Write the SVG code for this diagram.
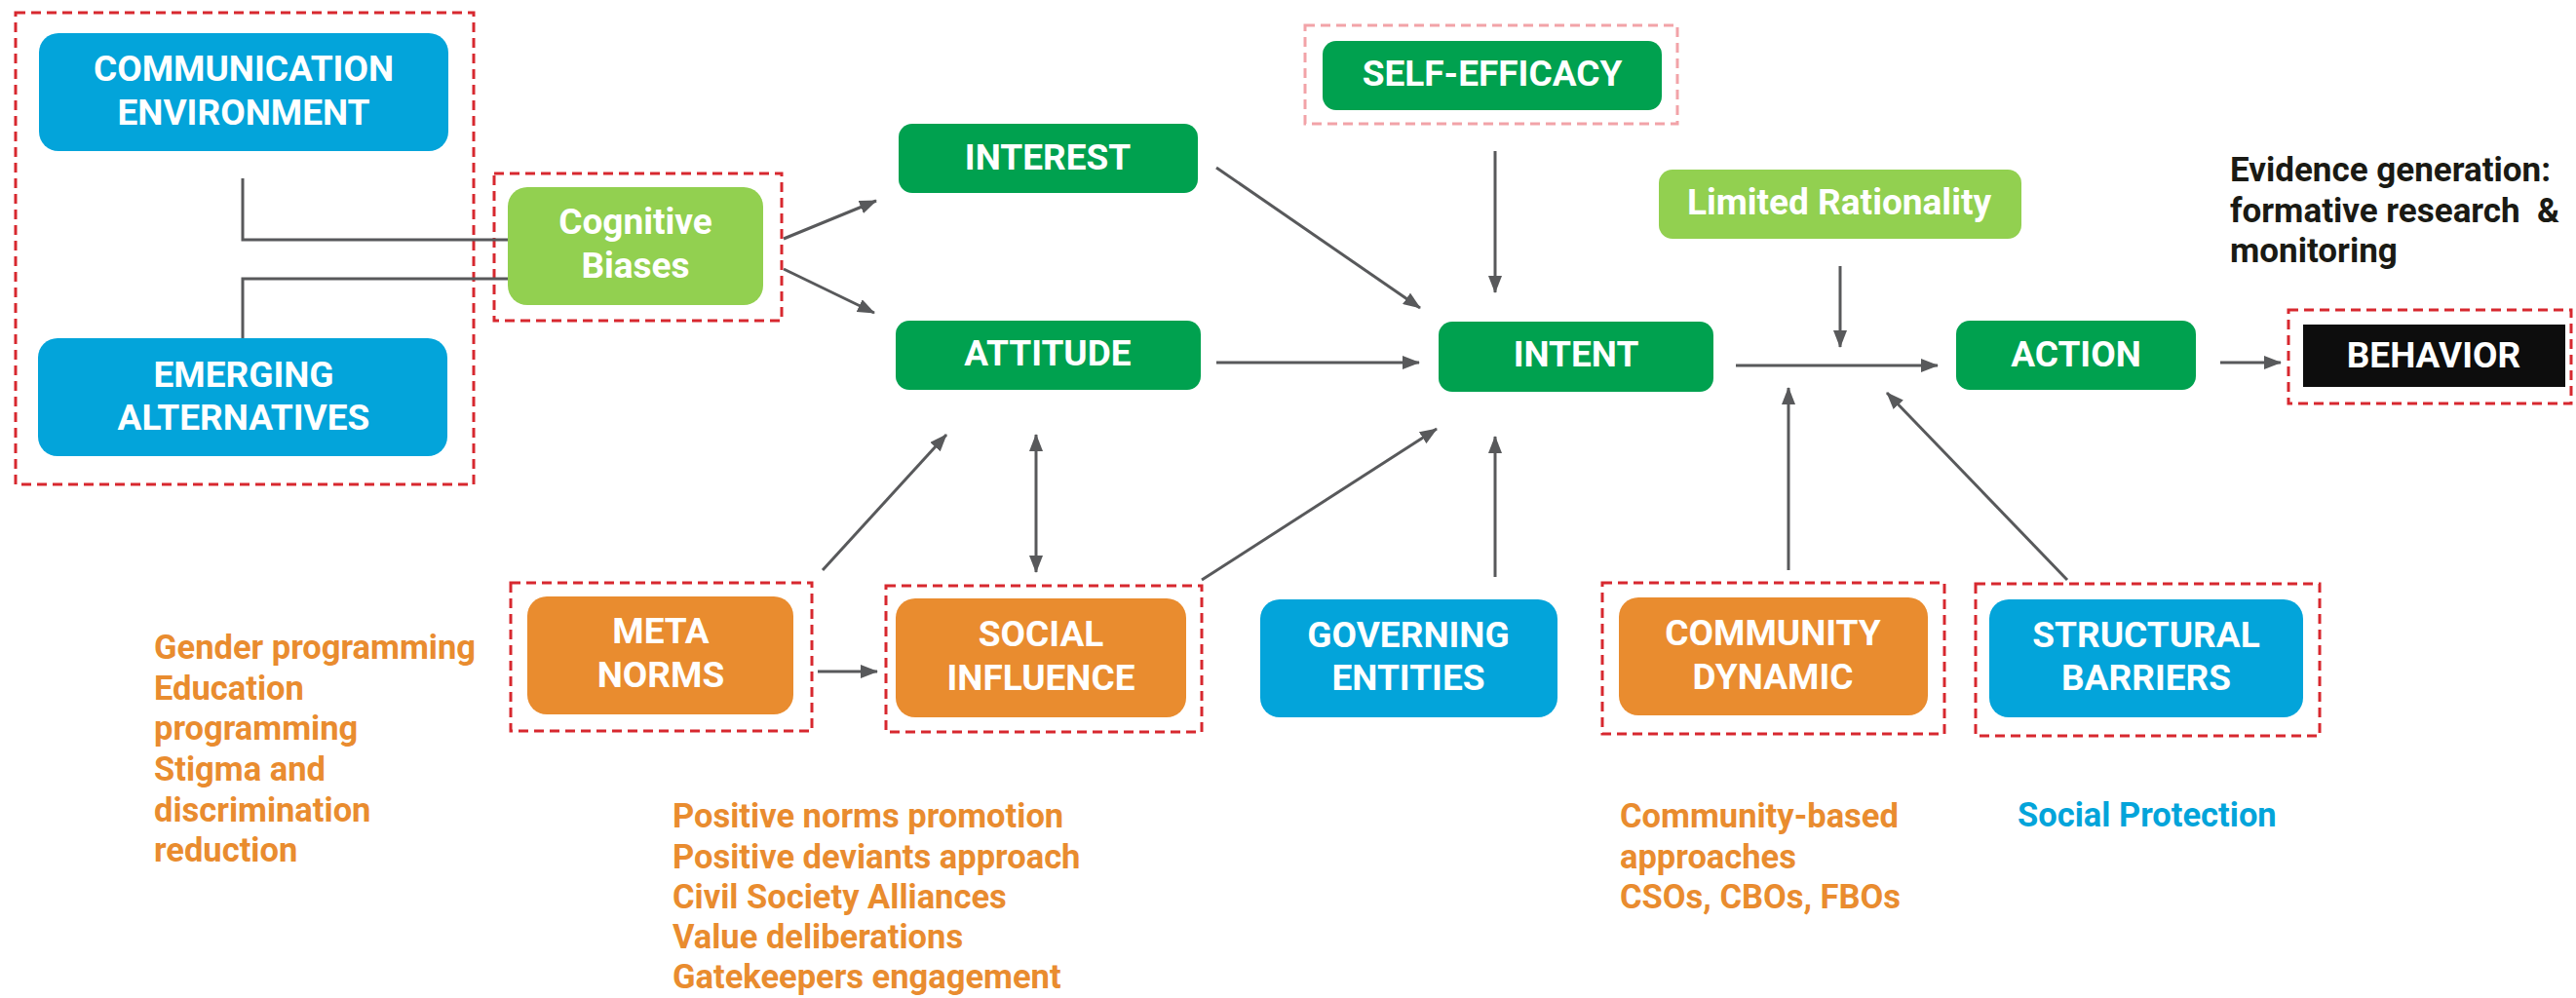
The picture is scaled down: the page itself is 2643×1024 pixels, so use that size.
<svg xmlns="http://www.w3.org/2000/svg" width="2643" height="1024" viewBox="0 0 2643 1024">
<style>
text{font-family:Roboto,"Liberation Sans",sans-serif;font-weight:700}
.bt{fill:#fff;font-size:37px;text-anchor:middle}
.blue{fill:#03A4DA}
.dg{fill:#00A14F}
.lg{fill:#92D050}
.or{fill:#E98C2F}
.blk{fill:#0D0D0D}
.dash{fill:none;stroke:#D7282F;stroke-width:3;stroke-dasharray:10 6}
.pink{fill:none;stroke:#F2A3A8;stroke-width:3;stroke-dasharray:10 6}
.side{font-size:34.5px}
.ot{fill:#E98C2F}
.bl{fill:#03A4DA}
.ev{fill:#1A1A14;font-size:35px}
.c{fill:none;stroke:#58595B;stroke-width:3}
.a{marker-end:url(#ah)}
</style>
<defs>
<marker id="ah" markerUnits="userSpaceOnUse" markerWidth="18" markerHeight="14" refX="17" refY="7" orient="auto-start-reverse">
<path d="M0,0 L18,7 L0,14 Z" fill="#58595B"/>
</marker>
</defs>
<rect width="2643" height="1024" fill="#fff"/>

<g id="groups">
<rect class="dash" x="16" y="13" width="470" height="484"/>
<rect class="dash" x="507" y="178" width="295" height="151"/>
<rect class="pink" x="1339" y="26" width="382" height="101"/>
<rect class="dash" x="2348" y="318" width="290" height="96"/>
<rect class="dash" x="524" y="598" width="309" height="152"/>
<rect class="dash" x="909" y="601" width="324" height="150"/>
<rect class="dash" x="1644" y="598" width="351" height="155"/>
<rect class="dash" x="2027" y="599" width="353" height="156"/>
</g>

<g id="connectors">
<polyline class="c" points="249,183 249,246 521,246"/>
<polyline class="c" points="521,286 249,286 249,348"/>
<line class="c a" x1="804" y1="245" x2="899" y2="206"/>
<line class="c a" x1="804" y1="276" x2="897" y2="321"/>
<line class="c a" x1="1248" y1="172" x2="1457" y2="316"/>
<line class="c a" x1="1534" y1="155" x2="1534" y2="300"/>
<line class="c a" x1="1248" y1="372" x2="1456" y2="372"/>
<line class="c a" x1="844" y1="585" x2="971" y2="446"/>
<line class="c a" x1="1063" y1="446" x2="1063" y2="587" style="marker-start:url(#ah)"/>
<line class="c a" x1="1233" y1="595" x2="1474" y2="440"/>
<line class="c a" x1="1534" y1="592" x2="1534" y2="448"/>
<line class="c a" x1="839" y1="689" x2="900" y2="689"/>
<line class="c a" x1="1888" y1="273" x2="1888" y2="356"/>
<line class="c a" x1="1781" y1="375" x2="1988" y2="375"/>
<line class="c a" x1="1835" y1="585" x2="1835" y2="398"/>
<line class="c a" x1="2121" y1="595" x2="1936" y2="403"/>
<line class="c a" x1="2278" y1="372" x2="2340" y2="372"/>
</g>

<g id="comm-env"><rect class="blue" x="40" y="34" width="420" height="121" rx="20"/><text class="bt" x="250" y="83">COMMUNICATION</text><text class="bt" x="250" y="128">ENVIRONMENT</text></g>
<g id="emerging"><rect class="blue" x="39" y="347" width="420" height="121" rx="20"/><text class="bt" x="250" y="397">EMERGING</text><text class="bt" x="250" y="441">ALTERNATIVES</text></g>
<g id="cognitive"><rect class="lg" x="521" y="192" width="262" height="121" rx="20"/><text class="bt" x="652" y="240">Cognitive</text><text class="bt" x="652" y="285">Biases</text></g>
<g id="interest"><rect class="dg" x="922" y="127" width="307" height="71" rx="14"/><text class="bt" x="1075" y="174">INTEREST</text></g>
<g id="attitude"><rect class="dg" x="919" y="329" width="313" height="71" rx="14"/><text class="bt" x="1075" y="375">ATTITUDE</text></g>
<g id="self-efficacy"><rect class="dg" x="1357" y="42" width="348" height="71" rx="14"/><text class="bt" x="1531" y="88">SELF-EFFICACY</text></g>
<g id="intent"><rect class="dg" x="1476" y="330" width="282" height="72" rx="14"/><text class="bt" x="1617" y="376">INTENT</text></g>
<g id="limited-rationality"><rect class="lg" x="1702" y="174" width="372" height="71" rx="14"/><text class="bt" x="1887" y="220">Limited Rationality</text></g>
<g id="action"><rect class="dg" x="2007" y="329" width="246" height="71" rx="14"/><text class="bt" x="2130" y="376">ACTION</text></g>
<g id="behavior"><rect class="blk" x="2363" y="333" width="269" height="64"/><text class="bt" x="2497" y="377">BEHAVIOR</text></g>
<g id="meta-norms"><rect class="or" x="541" y="612" width="273" height="121" rx="20"/><text class="bt" x="678" y="660">META</text><text class="bt" x="678" y="705">NORMS</text></g>
<g id="social-influence"><rect class="or" x="919" y="614" width="298" height="122" rx="20"/><text class="bt" x="1068" y="663">SOCIAL</text><text class="bt" x="1068" y="708">INFLUENCE</text></g>
<g id="governing"><rect class="blue" x="1293" y="615" width="305" height="121" rx="20"/><text class="bt" x="1445" y="664">GOVERNING</text><text class="bt" x="1445" y="708">ENTITIES</text></g>
<g id="community"><rect class="or" x="1661" y="613" width="317" height="121" rx="20"/><text class="bt" x="1819" y="662">COMMUNITY</text><text class="bt" x="1819" y="707">DYNAMIC</text></g>
<g id="structural"><rect class="blue" x="2041" y="615" width="322" height="121" rx="20"/><text class="bt" x="2202" y="664">STRUCTURAL</text><text class="bt" x="2202" y="708">BARRIERS</text></g>

<g id="notes">
<text class="side ot" x="158"><tspan x="158" y="676">Gender programming</tspan><tspan x="158" y="718">Education</tspan><tspan x="158" y="759">programming</tspan><tspan x="158" y="801">Stigma and</tspan><tspan x="158" y="843">discrimination</tspan><tspan x="158" y="884">reduction</tspan></text>
<text class="side ot" x="690"><tspan x="690" y="849">Positive norms promotion</tspan><tspan x="690" y="891">Positive deviants approach</tspan><tspan x="690" y="932">Civil Society Alliances</tspan><tspan x="690" y="973">Value deliberations</tspan><tspan x="690" y="1014">Gatekeepers engagement</tspan></text>
<text class="side ot" x="1662"><tspan x="1662" y="849">Community-based</tspan><tspan x="1662" y="891">approaches</tspan><tspan x="1662" y="932">CSOs, CBOs, FBOs</tspan></text>
<text class="side bl" x="2070" y="848">Social Protection</text>
<text class="ev" x="2288" style="white-space:pre"><tspan x="2288" y="186">Evidence generation:</tspan><tspan x="2288" y="228">formative research  &amp;</tspan><tspan x="2288" y="269">monitoring</tspan></text>
</g>
</svg>
